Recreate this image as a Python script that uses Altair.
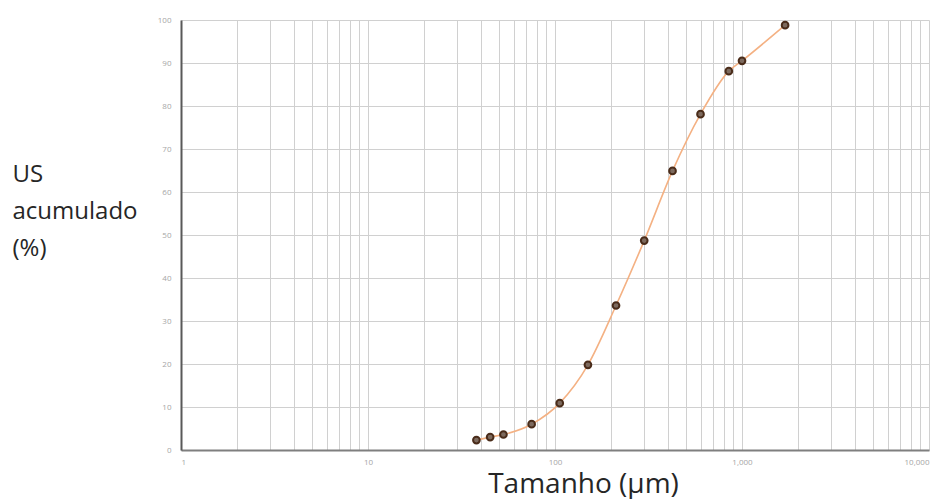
import altair as alt
import pandas as pd

sizes = [38, 45, 53, 75, 106, 150, 212, 300, 425, 600, 850, 1000, 1700]
passing = [2.3, 3.0, 3.6, 6.0, 10.9, 19.8, 33.6, 48.7, 64.9, 78.1, 88.1, 90.5, 98.8]

x_grid = [m * 10 ** d for d in range(4) for m in range(1, 10)] + [10000]
x_labels = [1, 10, 100, 1000, 10000]
y_ticks = list(range(0, 101, 10))

df = pd.DataFrame({"size": sizes, "pct": passing})

FONT = "Open Sans"

x_enc = alt.X(
    "size:Q",
    scale=alt.Scale(type="log", domain=[1, 10000], nice=False),
    axis=alt.Axis(
        values=x_grid,
        labelExpr="indexof([1,10,100,1000,10000], datum.value) >= 0 ? format(datum.value, ',') : ''",
        grid=True, gridColor="#d0d0d0", gridWidth=1,
        ticks=False, domainColor="#7f7f7f", domainWidth=2,
        labelColor="#a6a6a6", labelFontSize=8, labelPadding=8, labelFont=FONT,
        title="Tamanho (µm)", titleFont=FONT, titleFontSize=28, titleFontWeight="normal",
        titleColor="#262626", titleX=402, titleY=42, titleAlign="center",
        titleBaseline="alphabetic", titleAnchor="start",
    ),
)
y_enc = alt.Y(
    "pct:Q",
    scale=alt.Scale(domain=[0, 100], nice=False),
    axis=alt.Axis(
        values=y_ticks,
        grid=True, gridColor="#d0d0d0", gridWidth=1,
        ticks=False, domainColor="#595959", domainWidth=2,
        labelColor="#a6a6a6", labelFontSize=8, labelPadding=10, labelFont=FONT,
        title=["US", "acumulado", "(%)"], titleFont=FONT, titleFontSize=24,
        titleFontWeight="normal", titleColor="#262626", titleAngle=0,
        titleAlign="left", titleBaseline="alphabetic", titleX=-169, titleY=161,
        titleLineHeight=37, titleAnchor="start",
    ),
)

base = alt.Chart(df)
line = base.mark_line(color="#f4b183", strokeWidth=1.6, interpolate="monotone").encode(x=x_enc, y=y_enc)
pts = base.mark_point(filled=True, size=45, fill="#7d6a5e", stroke="#4a2c1a", strokeWidth=2, opacity=1).encode(
    x="size:Q", y="pct:Q"
)

chart = (
    alt.layer(line, pts)
    .properties(
        width=748, height=430,
        autosize=alt.AutoSizeParams(type="none"),
        padding={"left": 181, "top": 20, "right": 22, "bottom": 49},
        background="white",
    )
    .configure_view(stroke=None)
)

chart.save("out.html", embed_options={"renderer": "svg", "actions": False})
